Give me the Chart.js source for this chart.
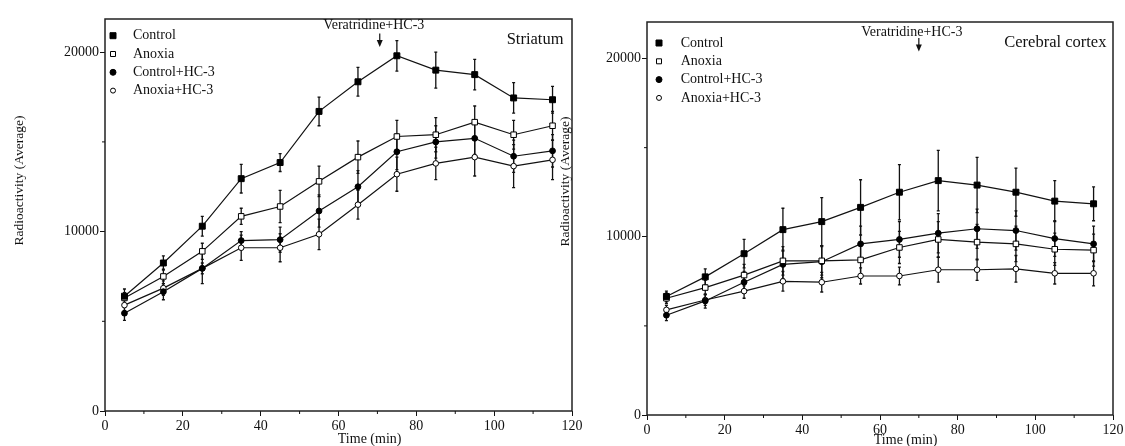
<!DOCTYPE html>
<html>
<head>
<meta charset="utf-8">
<script src="https://cdn.jsdelivr.net/npm/chart.js@4.4.1/dist/chart.umd.min.js"></script>
<style>
  html, body { margin: 0; padding: 0; background: #fff; overflow: hidden; }
  #wrap { position: relative; width: 1125px; height: 446px; }
  .panel { position: absolute; top: 0; }
  #left { left: 0; }
  #right { left: 540px; }
</style>
</head>
<body>
<div id="wrap">
  <div class="panel" id="left"><canvas id="striatumChart" width="600" height="446"></canvas></div>
  <div class="panel" id="right"><canvas id="cortexChart" width="585" height="446"></canvas></div>
</div>
<script>
// sampling times (min)
const times = [5, 15, 25, 35, 45, 55, 65, 75, 85, 95, 105, 115];
const xTickValues = [0, 20, 40, 60, 80, 100, 120];
const xMinorTicks = [10, 30, 50, 70, 90, 110];
const yTickValues = [0, 10000, 20000];
const yMinorTicks = [5000, 15000];
const seriesLabels = ['Control', 'Anoxia', 'Control+HC-3', 'Anoxia+HC-3'];

// Striatum
const striatumControl = [6400, 8250, 10300, 12950, 13850, 16700, 18350, 19800, 19000, 18750, 17450, 17350];
const striatumAnoxia = [6300, 7500, 8900, 10850, 11400, 12800, 14150, 15300, 15400, 16100, 15400, 15900];
const striatumControlHC3 = [5450, 6650, 7950, 9500, 9550, 11150, 12500, 14450, 15000, 15200, 14200, 14500];
const striatumAnoxiaHC3 = [5900, 6850, 7950, 9100, 9100, 9850, 11500, 13200, 13800, 14150, 13650, 14000];
const striatumControlErr = [400, 400, 550, 800, 500, 800, 800, 850, 1000, 850, 850, 750];
const striatumAnoxiaErr = [300, 400, 450, 450, 900, 850, 900, 900, 950, 900, 800, 800];
const striatumControlHC3Err = [400, 450, 300, 500, 700, 900, 900, 1000, 900, 900, 900, 900];
const striatumAnoxiaHC3Err = [300, 400, 850, 700, 780, 850, 800, 950, 900, 1050, 1200, 1100];

// Cerebral cortex
const cortexControl = [6650, 7750, 9050, 10400, 10850, 11650, 12500, 13150, 12900, 12500, 12000, 11850];
const cortexAnoxia = [6550, 7150, 7850, 8650, 8650, 8700, 9400, 9850, 9700, 9600, 9300, 9250];
const cortexControlHC3 = [5600, 6400, 7450, 8450, 8600, 9600, 9850, 10200, 10450, 10350, 9900, 9600];
const cortexAnoxiaHC3 = [5900, 6450, 6950, 7500, 7450, 7800, 7800, 8150, 8150, 8200, 7950, 7950];
const cortexControlErr = [300, 450, 800, 1200, 1350, 1550, 1550, 1700, 1550, 1350, 1150, 950];
const cortexAnoxiaErr = [300, 400, 600, 800, 800, 900, 900, 1000, 1000, 1000, 900, 900];
const cortexControlHC3Err = [300, 400, 600, 800, 900, 1000, 1000, 1100, 1100, 1100, 1000, 1000];
const cortexAnoxiaHC3Err = [250, 300, 400, 550, 550, 450, 500, 700, 600, 750, 600, 700];

const FONT = "'Liberation Serif', 'Times New Roman', serif";
Chart.defaults.font.family = FONT;
Chart.defaults.font.size = 14;
Chart.defaults.color = '#111';

// marker look per series
const markers = [
    { pointStyle: 'rect', radius: 4.2, fill: '#000', legendSize: 6 },
    { pointStyle: 'rect', radius: 3.9, fill: '#fff', legendSize: 5 },
    { pointStyle: 'circle', radius: 2.9, fill: '#000', legendSize: 6 },
    { pointStyle: 'circle', radius: 2.8, fill: '#fff', legendSize: 5 }
];

function makeDatasets(valueLists, errorLists) {
    return valueLists.map((vals, i) => ({
        label: seriesLabels[i],
        data: vals.map((v, j) => ({ x: times[j], y: v })),
        errors: errorLists[i],
        borderColor: '#111',
        borderWidth: 1.2,
        pointStyle: markers[i].pointStyle,
        pointRadius: markers[i].radius,
        pointBackgroundColor: markers[i].fill,
        pointBorderColor: '#000',
        pointBorderWidth: 1,
        tension: 0
    }));
}

function drawMarker(ctx, style, x, y, size, fill) {
    ctx.fillStyle = fill;
    ctx.strokeStyle = '#000';
    ctx.lineWidth = 1;
    ctx.beginPath();
    if (style === 'rect') {
        ctx.rect(x - size / 2, y - size / 2, size, size);
    } else {
        ctx.arc(x, y, size / 2, 0, Math.PI * 2);
    }
    ctx.fill();
    ctx.stroke();
}

// error bars, box, minor ticks, titles, legend, arrow
const decorPlugin = {
    id: 'decor',
    beforeDatasetsDraw(chart) {
        const ctx = chart.ctx;
        const yScale = chart.scales.y;
        ctx.save();
        ctx.strokeStyle = '#111';
        ctx.lineWidth = 1.3;
        chart.data.datasets.forEach((ds, i) => {
            const meta = chart.getDatasetMeta(i);
            meta.data.forEach((pt, j) => {
                const v = ds.data[j].y, e = ds.errors[j];
                const top = yScale.getPixelForValue(v + e);
                const bot = yScale.getPixelForValue(v - e);
                ctx.beginPath();
                ctx.moveTo(pt.x, top); ctx.lineTo(pt.x, bot);
                ctx.moveTo(pt.x - 1.5, top); ctx.lineTo(pt.x + 1.5, top);
                ctx.moveTo(pt.x - 1.5, bot); ctx.lineTo(pt.x + 1.5, bot);
                ctx.stroke();
            });
        });
        ctx.restore();
    },
    afterDraw(chart, args, opts) {
        const ctx = chart.ctx;
        const a = chart.chartArea;
        const xs = chart.scales.x, ys = chart.scales.y;
        ctx.save();

        // plot frame
        ctx.strokeStyle = '#222';
        ctx.lineWidth = 1.5;
        ctx.strokeRect(a.left, a.top, a.right - a.left, a.bottom - a.top);

        // minor ticks
        ctx.lineWidth = 1;
        ctx.strokeStyle = '#111';
        ctx.beginPath();
        xMinorTicks.forEach(v => {
            const px = xs.getPixelForValue(v);
            ctx.moveTo(px, a.bottom); ctx.lineTo(px, a.bottom + 3);
        });
        yMinorTicks.forEach(v => {
            const py = ys.getPixelForValue(v);
            ctx.moveTo(a.left, py); ctx.lineTo(a.left - 3, py);
        });
        ctx.stroke();

        ctx.fillStyle = '#111';

        // y title
        ctx.save();
        ctx.font = '13.5px ' + FONT;
        ctx.translate(a.left - opts.yTitleDx, opts.yTitleY);
        ctx.rotate(-Math.PI / 2);
        ctx.textAlign = 'center';
        ctx.textBaseline = 'middle';
        ctx.fillText('Radioactivity (Average)', 0, 0);
        ctx.restore();

        // x title
        ctx.font = '14px ' + FONT;
        ctx.textAlign = 'center';
        ctx.textBaseline = 'middle';
        ctx.fillText('Time (min)', xs.getPixelForValue(opts.xTitleAt), opts.xTitleY);

        // panel name
        ctx.font = '16.5px ' + FONT;
        ctx.textAlign = 'right';
        ctx.fillText(opts.panel, a.right - opts.panelDx, a.top + opts.panelDy);

        // Veratridine+HC-3 arrow
        const ax = xs.getPixelForValue(opts.arrowAt);
        ctx.font = '14px ' + FONT;
        ctx.textAlign = 'center';
        ctx.fillText('Veratridine+HC-3', ax + opts.arrowTextDx, opts.arrowTextY);
        ctx.lineWidth = 1.2;
        ctx.beginPath();
        ctx.moveTo(ax, opts.arrowY1);
        ctx.lineTo(ax, opts.arrowY2 - 5);
        ctx.stroke();
        ctx.beginPath();
        ctx.moveTo(ax - 3, opts.arrowY2 - 7);
        ctx.lineTo(ax + 3, opts.arrowY2 - 7);
        ctx.lineTo(ax, opts.arrowY2);
        ctx.closePath();
        ctx.fill();

        // legend
        ctx.font = '14px ' + FONT;
        ctx.textAlign = 'left';
        ctx.textBaseline = 'middle';
        chart.data.datasets.forEach((ds, i) => {
            const ly = a.top + opts.legendTop + i * opts.legendGap;
            drawMarker(ctx, markers[i].pointStyle, a.left + opts.legendMarkerX, ly, markers[i].legendSize, markers[i].fill);
            ctx.fillStyle = '#111';
            ctx.fillText(ds.label, a.left + opts.legendTextX, ly);
        });

        ctx.restore();
    }
};

function makeOptions(cfg) {
    return {
        responsive: false,
        animation: false,
        layout: { padding: cfg.padding },
        plugins: {
            legend: { display: false },
            tooltip: { enabled: false },
            decor: cfg.decor
        },
        scales: {
            x: {
                type: 'linear',
                min: 0,
                max: 120,
                afterBuildTicks: s => { s.ticks = xTickValues.map(v => ({ value: v })); },
                afterFit: s => { s.height = cfg.xHeight; s.paddingLeft = 0; s.paddingRight = 0; },
                grid: { drawOnChartArea: false, drawTicks: true, tickLength: 5, color: '#111', lineWidth: 1 },
                border: { display: false },
                ticks: { padding: cfg.xTickPad, maxRotation: 0, autoSkip: false, callback: v => String(v), font: { size: 14 } }
            },
            y: {
                type: 'linear',
                min: 0,
                max: cfg.yMax,
                afterBuildTicks: s => { s.ticks = yTickValues.map(v => ({ value: v })); },
                afterFit: s => { s.width = cfg.yWidth; s.paddingTop = 0; s.paddingBottom = 0; },
                grid: { drawOnChartArea: false, drawTicks: true, tickLength: 5, color: '#111', lineWidth: 1 },
                border: { display: false },
                ticks: { padding: 1, autoSkip: false, callback: v => String(v), font: { size: 14 } }
            }
        }
    };
}

const striatumChart = new Chart(document.getElementById('striatumChart'), {
    type: 'line',
    data: {
        datasets: makeDatasets(
            [striatumControl, striatumAnoxia, striatumControlHC3, striatumAnoxiaHC3],
            [striatumControlErr, striatumAnoxiaErr, striatumControlHC3Err, striatumAnoxiaHC3Err]
        )
    },
    options: makeOptions({
        padding: { left: 0, top: 19, right: 28, bottom: 0 },
        xHeight: 35,
        yWidth: 105,
        yMax: 21850,
        xTickPad: 2,
        decor: {
            panel: 'Striatum', panelDx: 8.5, panelDy: 21,
            yTitleDx: 86, yTitleY: 180.5,
            xTitleAt: 68, xTitleY: 439,
            arrowAt: 70.6, arrowTextDx: -6, arrowTextY: 25.5, arrowY1: 33.5, arrowY2: 47,
            legendMarkerX: 8, legendTextX: 28, legendTop: 16.7, legendGap: 18.3
        }
    }),
    plugins: [decorPlugin]
});

const cortexChart = new Chart(document.getElementById('cortexChart'), {
    type: 'line',
    data: {
        datasets: makeDatasets(
            [cortexControl, cortexAnoxia, cortexControlHC3, cortexAnoxiaHC3],
            [cortexControlErr, cortexAnoxiaErr, cortexControlHC3Err, cortexAnoxiaHC3Err]
        )
    },
    options: makeOptions({
        padding: { left: 0, top: 22, right: 12, bottom: 0 },
        xHeight: 31,
        yWidth: 107,
        yMax: 22050,
        xTickPad: 2,
        decor: {
            panel: 'Cerebral cortex', panelDx: 6.6, panelDy: 21,
            yTitleDx: 82, yTitleY: 181.5,
            xTitleAt: 66.6, xTitleY: 440,
            arrowAt: 70, arrowTextDx: -7, arrowTextY: 32.5, arrowY1: 38, arrowY2: 51.5,
            legendMarkerX: 12, legendTextX: 33.7, legendTop: 21, legendGap: 18.3
        }
    }),
    plugins: [decorPlugin]
});
</script>
</body>
</html>
